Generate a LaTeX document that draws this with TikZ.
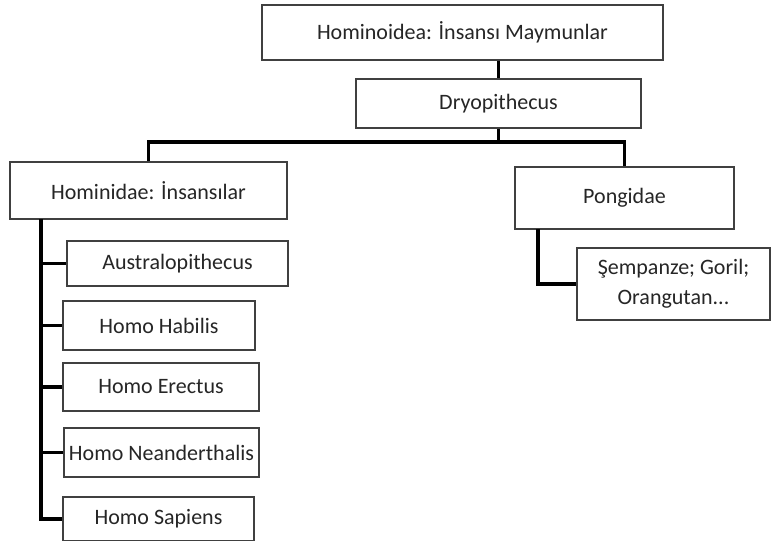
\documentclass[tikz,border=0pt]{standalone}
\usepackage{fontspec}
\setmainfont{Carlito}
\usetikzlibrary{shadows}
\begin{document}
\begin{tikzpicture}[x=1pt,y=-1pt]
        \tikzstyle{taxon} = [draw=black!75, line width=1.1pt, fill=white, inner sep=0pt, align=center,
                             text=black!85, font=\fontsize{22}{30}\selectfont,
                             drop shadow={shadow xshift=1.4pt, shadow yshift=-1.4pt, opacity=0.35}]
        \tikzstyle{link} = [line width=3.6pt]

        \useasboundingbox (0,0) rectangle (772,541);

        \node[taxon, minimum width=401pt, minimum height=55pt] (super) at (462.5,32.5){Hominoidea: İnsansı Maymunlar};
        \node[taxon, minimum width=285pt, minimum height=49pt] (dryo) at (498.5,103.5){Dryopithecus};
        \node[taxon, minimum width=277pt, minimum height=57pt] (homnd) at (148.5,190.5){Hominidae: İnsansılar};
        \node[taxon, minimum width=219pt, minimum height=62pt] (pong) at (624.5,198){Pongidae};
        \node[taxon, minimum width=193pt, minimum height=72pt] (apes) at (673.5,284){Şempanze; Goril;\\Orangutan...};
        \node[taxon, minimum width=221pt, minimum height=45pt] (aus) at (177.5,263.5){Australopithecus};
        \node[taxon, minimum width=192pt, minimum height=49pt] (hab) at (159,325.5){Homo Habilis};
        \node[taxon, minimum width=196pt, minimum height=48pt] (ere) at (161,387){Homo Erectus};
        \node[taxon, minimum width=195pt, minimum height=49pt] (nea) at (161.5,452.5){Homo Neanderthalis};
        \node[taxon, minimum width=191pt, minimum height=44pt] (sap) at (158.5,519){Homo Sapiens};

        \coordinate (split) at (498.5,142);
        \coordinate (trunk) at (41,219);
        \coordinate (pongleg) at (538,229);

        %\draw[->] (super.south) -- (dryo.north);
        \draw[link] (dryo.north |- super.south) -- (dryo.north) (dryo.south) -- (split);
        \draw[link] (homnd.north) |- (split) -| (pong.north);
        \draw[link] (trunk) |- (sap.west) (trunk |- aus.west) edge (aus.west) (trunk |- hab.west) edge (hab.west) (trunk |- ere.west) edge (ere.west) (trunk |- nea.west) edge (nea.west);
        \draw[link] (pongleg) |- (apes.west);

    \end{tikzpicture}
\end{document}
